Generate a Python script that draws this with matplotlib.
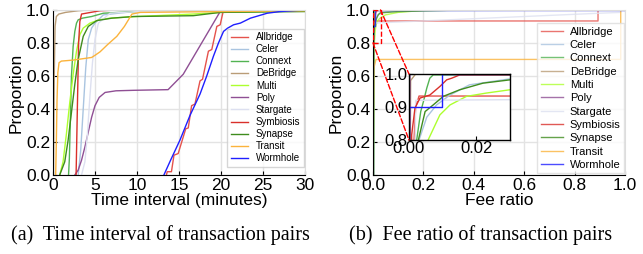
import numpy as np
import matplotlib
matplotlib.use('Agg')
import matplotlib.pyplot as plt
from matplotlib.patches import Rectangle, ConnectionPatch

plt.rcParams['font.family'] = ['Liberation Sans', 'DejaVu Sans']

names = ['Allbridge', 'Celer', 'Connext', 'DeBridge', 'Multi', 'Poly',
         'Stargate', 'Symbiosis', 'Synapse', 'Transit', 'Wormhole']
colors = ['#e5524c', '#a9c4e0', '#52b352', '#b99c76', '#adff2f', '#8f4f94',
          '#dde0f0', '#d9302a', '#3f8c1e', '#fbb33c', '#1f1fff']

# (a) time interval CDFs, minutes
time_x = {
    'Allbridge': [13.5, 13.6, 14.1, 14.4, 14.9, 15.8, 16.1, 16.5, 16.9, 17.5, 17.8,
                  18.5, 18.9, 19.5, 19.9, 20.3, 30],
    'Celer': [3.0, 3.3, 3.6, 3.9, 4.2, 4.6, 5.0, 6.0, 9.6, 30],
    'Connext': [1.85, 1.95, 2.05, 2.2, 2.4, 2.6, 2.8, 3.0, 3.5, 4.6, 6.0, 13.5, 30],
    'DeBridge': [0.05, 0.15, 0.25, 0.4, 0.7, 1.5, 3.0, 4.4, 30],
    'Multi': [0.8, 1.2, 1.6, 2.0, 2.4, 2.8, 3.2, 3.6, 4.4, 5.5, 6.8, 10, 16.7, 20, 30],
    'Poly': [2.6, 3.0, 3.4, 3.8, 4.2, 4.6, 5.0, 5.5, 6.2, 7.5, 9.6, 13.7, 15.5,
             19.9, 20.7, 30],
    'Stargate': [3.4, 3.8, 4.1, 4.4, 4.7, 5.0, 5.4, 6.8, 10, 30],
    'Symbiosis': [2.75, 2.9, 3.05, 3.2, 3.4, 4.5, 5.6, 8.0, 30],
    'Synapse': [0.8, 1.4, 1.8, 2.2, 2.6, 3.0, 3.6, 4.2, 5.2, 7.0, 9.6, 16.7, 19.9, 30],
    'Transit': [0.32, 0.4, 0.48, 0.58, 0.72, 1.0, 2.4, 4.6, 5.0, 5.6, 6.5, 7.6, 8.5,
                9.4, 10.4, 30],
    'Wormhole': [13.2, 14.0, 15.1, 16.3, 17.5, 18.3, 19.1, 19.7, 20.3, 20.8, 21.5,
                 22.3, 23.5, 25.5, 27, 30],
}
time_p = {
    'Allbridge': [0.0, 0.02, 0.02, 0.12, 0.13, 0.28, 0.285, 0.42, 0.43, 0.57, 0.58,
                  0.75, 0.76, 0.90, 0.91, 1.0, 1.0],
    'Celer': [0.0, 0.15, 0.4, 0.65, 0.82, 0.89, 0.92, 0.97, 0.99, 1.0],
    'Connext': [0.0, 0.1, 0.3, 0.6, 0.78, 0.87, 0.92, 0.94, 0.95, 0.96, 0.98, 1.0, 1.0],
    'DeBridge': [0.0, 0.6, 0.9, 0.96, 0.975, 0.985, 0.995, 1.0, 1.0],
    'Multi': [0.0, 0.08, 0.25, 0.44, 0.61, 0.75, 0.85, 0.89, 0.92, 0.94, 0.95, 0.96,
              0.975, 0.985, 0.995],
    'Poly': [0.0, 0.03, 0.09, 0.17, 0.26, 0.35, 0.42, 0.47, 0.50, 0.51, 0.513, 0.517,
             0.61, 0.99, 1.0, 1.0],
    'Stargate': [0.0, 0.08, 0.25, 0.48, 0.68, 0.82, 0.92, 0.98, 0.99, 1.0],
    'Symbiosis': [0.0, 0.4, 0.8, 0.93, 0.975, 0.985, 0.995, 1.0, 1.0],
    'Synapse': [0.0, 0.08, 0.21, 0.38, 0.55, 0.70, 0.84, 0.90, 0.935, 0.95, 0.96,
                0.965, 0.985, 0.99],
    'Transit': [0.0, 0.2, 0.45, 0.62, 0.68, 0.69, 0.696, 0.712, 0.725, 0.746, 0.79,
                0.84, 0.9, 0.975, 0.985, 0.995],
    'Wormhole': [0.0, 0.09, 0.21, 0.36, 0.49, 0.60, 0.72, 0.80, 0.87, 0.89, 0.91,
                 0.92, 0.95, 0.98, 0.99, 1.0],
}

# (b) fee ratio CDFs
fee_x = {
    'Allbridge': [0.0005, 0.0015, 0.002, 0.003, 0.893, 0.893, 1.0],
    'Celer': [0.002, 0.003, 0.0053, 0.0082, 0.0122, 0.018, 0.03, 0.1, 1.0],
    'Connext': [0.002, 0.0023, 0.0035, 0.0043, 0.0053, 0.0062, 0.0072, 1.0],
    'DeBridge': [0.0, 0.0005, 0.002, 1.0],
    'Multi': [0.003, 0.0057, 0.0092, 0.0122, 0.0171, 0.023, 0.03, 0.05, 0.1, 0.2, 1.0],
    'Poly': [0.0, 0.0003, 1.0],
    'Stargate': [0.001, 0.002, 0.03, 0.3, 0.6, 0.9, 0.983, 0.983, 1.0],
    'Symbiosis': [0.0005, 0.0008, 0.0018, 0.0033, 0.0062, 0.0092, 0.0112, 0.0127,
                  0.0151, 1.0],
    'Synapse': [0.002, 0.0028, 0.0048, 0.0072, 0.0102, 0.0151, 0.022, 0.03, 0.1, 0.31, 1.0],
    'Transit': [0.001, 0.002, 0.004, 0.012, 0.983, 0.983, 1.0],
    'Wormhole': [0.0, 0.0, 0.0098, 0.0098, 1.0],
}
fee_p = {
    'Allbridge': [0.0, 0.8, 0.9, 0.933, 0.933, 1.0, 1.0],
    'Celer': [0.0, 0.8, 0.869, 0.906, 0.936, 0.967, 0.985, 0.995, 1.0],
    'Connext': [0.0, 0.8, 0.886, 0.916, 0.957, 0.987, 0.997, 1.0],
    'DeBridge': [0.0, 0.98, 1.0, 1.0],
    'Multi': [0.0, 0.8, 0.876, 0.906, 0.932, 0.942, 0.952, 0.97, 0.985, 0.997, 1.0],
    'Poly': [0.0, 1.0, 1.0],
    'Stargate': [0.0, 0.92, 0.922, 0.94, 0.96, 0.98, 0.985, 1.0, 1.0],
    'Symbiosis': [0.0, 0.815, 0.897, 0.927, 0.936, 0.962, 0.982, 0.987, 0.997, 1.0],
    'Synapse': [0.0, 0.8, 0.886, 0.906, 0.932, 0.952, 0.972, 0.982, 0.99, 0.998, 1.0],
    'Transit': [0.0, 0.4, 0.65, 0.7, 0.7, 1.0, 1.0],
    'Wormhole': [0.0, 0.9, 0.9, 1.0, 1.0],
}


def style(ax, grid=True):
    ax.tick_params(direction='in', labelsize=12.5, length=3, colors='black', pad=2)
    for s in ['left', 'bottom']:
        ax.spines[s].set_color('black')
    for s in ['top', 'right']:
        ax.spines[s].set_color('#dddddd')
    if grid:
        ax.grid(True, color='#e3e3e3', linewidth=1.0)
        ax.set_axisbelow(True)


fig = plt.figure(figsize=(6.43, 2.54), dpi=100)
ax1 = fig.add_axes([0.0824, 0.311, 0.392, 0.650])
ax2 = fig.add_axes([0.580, 0.311, 0.392, 0.650])

for n, c in zip(names, colors):
    ax1.plot(time_x[n], time_p[n], color=c, lw=1.0, label=n)
ax1.set_xlim(0, 30)
ax1.set_ylim(0, 1.0)
ax1.set_xticks([0, 5, 10, 15, 20, 25, 30])
ax1.set_yticks([0.0, 0.2, 0.4, 0.6, 0.8, 1.0])
ax1.set_xlabel('Time interval (minutes)', fontsize=12.5, labelpad=0)
ax1.set_ylabel('Proportion', fontsize=12.5, labelpad=2)
style(ax1)
ax1.legend(loc='lower right', bbox_to_anchor=(0.995, 0.05), borderaxespad=0,
           fontsize=7, frameon=True, fancybox=False, edgecolor='#cccccc',
           handlelength=1.8, labelspacing=0.22, borderpad=0.35, handletextpad=0.8)

for n, c in zip(names, colors):
    ax2.plot(fee_x[n], fee_p[n], color=c, lw=1.0, label=n, alpha=0.8)
ax2.set_xlim(0, 1.0)
ax2.set_ylim(0, 1.0)
ax2.set_xticks([0.0, 0.2, 0.4, 0.6, 0.8, 1.0])
ax2.set_yticks([0.0, 0.2, 0.4, 0.6, 0.8, 1.0])
ax2.set_xlabel('Fee ratio', fontsize=12.5, labelpad=0)
ax2.set_ylabel('Proportion', fontsize=12.5, labelpad=2)
style(ax2)
ax2.legend(loc='lower right', bbox_to_anchor=(0.995, 0.01), borderaxespad=0,
           fontsize=8, frameon=True, fancybox=False, edgecolor='#dddddd',
           handlelength=2.0, labelspacing=0.3, borderpad=0.3, handletextpad=0.6)

# inset zoom
axin = fig.add_axes([0.636, 0.449, 0.157, 0.260])
for n, c in zip(names, colors):
    axin.plot(fee_x[n], fee_p[n], color=c, lw=1.0)
axin.set_xlim(0, 0.03)
axin.set_ylim(0.8, 1.0)
axin.set_xticks([0.0, 0.02])
axin.set_xticklabels(['0.00', '0.02'])
axin.set_yticks([0.8, 0.9, 1.0])
axin.tick_params(direction='in', labelsize=12, length=3, pad=1)
for s in axin.spines.values():
    s.set_color('black')
    s.set_linewidth(1.0)

ax2.add_patch(Rectangle((0, 0.8), 0.03, 0.2, fill=False, edgecolor='red',
                        linestyle='--', lw=1.0, zorder=5))
for (xa, ya), (xb, yb) in [((0.03, 1.0), (0, 1.0)), ((0, 0.8), (0, 0.8))]:
    cp = ConnectionPatch(xyA=(xa, ya), coordsA=ax2.transData,
                         xyB=(xb, yb), coordsB=axin.transData,
                         color='red', linestyle='--', lw=1.0)
    fig.add_artist(cp)

fig.text(0.249, 0.075, '(a)  Time interval of transaction pairs', ha='center',
         va='center', fontsize=14.5, family=['Liberation Serif', 'DejaVu Serif'])
fig.text(0.748, 0.075, '(b)  Fee ratio of transaction pairs', ha='center',
         va='center', fontsize=14.5, family=['Liberation Serif', 'DejaVu Serif'])

fig.savefig('out.png', dpi=100)
